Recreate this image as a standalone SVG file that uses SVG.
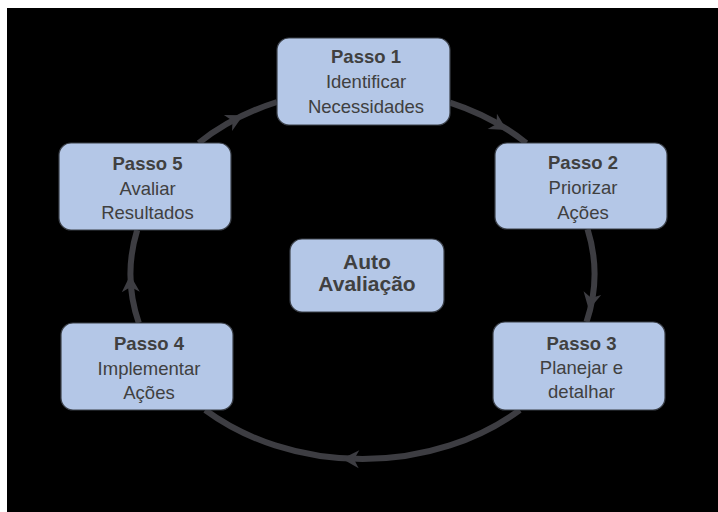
<svg xmlns="http://www.w3.org/2000/svg" width="718" height="512" viewBox="0 0 718 512">
<defs>
<style>
.box{fill:#b4c7e7;stroke:#3b4049;stroke-width:1.2}
.t{font-family:"Liberation Sans",Arial,sans-serif;font-size:18.5px;fill:#404040;text-anchor:middle}
.b{font-weight:bold}
.c{font-family:"Liberation Sans",Arial,sans-serif;font-size:21px;font-weight:bold;fill:#404040;text-anchor:middle}
.arc{fill:none;stroke:#3d3d42;stroke-width:6}
.ah{fill:#3d3d42}
</style>
<path id="head" d="M8,0 L-9,-9 L-4,0 L-9,9 Z"/>
</defs>
<rect x="0" y="0" width="718" height="512" fill="#ffffff"/>
<rect x="7" y="8" width="711" height="504" fill="#000000"/>
<g id="connectors">
<path class="arc" d="M450,102.7 A232,185 0 0 1 526.3,143"/>
<path class="arc" d="M587.5,229 A232,185 0 0 1 586.5,322"/>
<path class="arc" d="M519.8,410 A232,185 0 0 1 205.2,410"/>
<path class="arc" d="M138.8,323 A232,185 0 0 1 137.2,230"/>
<path class="arc" d="M198.7,143 A232,185 0 0 1 277,102"/>
<use href="#head" class="ah" transform="translate(500,126) rotate(31)"/>
<use href="#head" class="ah" transform="translate(590.5,302) rotate(102)"/>
<use href="#head" class="ah" transform="translate(350,459) rotate(182)"/>
<use href="#head" class="ah" transform="translate(130.5,283) rotate(-92)"/>
<use href="#head" class="ah" transform="translate(236,119) rotate(-27)"/>
</g>
<g id="step1">
<rect class="box" x="277" y="38" width="173" height="87" rx="12"/>
<text class="t b" x="366" y="63">Passo 1</text>
<text class="t" x="366" y="88">Identificar</text>
<text class="t" x="366" y="112.5">Necessidades</text>
</g>
<g id="step2">
<rect class="box" x="495" y="143" width="172" height="86" rx="12"/>
<text class="t b" x="583" y="169">Passo 2</text>
<text class="t" x="583" y="194">Priorizar</text>
<text class="t" x="583" y="218.5">Ações</text>
</g>
<g id="step3">
<rect class="box" x="493" y="322" width="172" height="88" rx="12"/>
<text class="t b" x="581.5" y="350">Passo 3</text>
<text class="t" x="581.5" y="374">Planejar e</text>
<text class="t" x="581.5" y="398">detalhar</text>
</g>
<g id="step4">
<rect class="box" x="61" y="323" width="172" height="87" rx="12"/>
<text class="t b" x="149" y="350">Passo 4</text>
<text class="t" x="149" y="374.5">Implementar</text>
<text class="t" x="149" y="399">Ações</text>
</g>
<g id="step5">
<rect class="box" x="59" y="143" width="172" height="87" rx="12"/>
<text class="t b" x="147.5" y="170">Passo 5</text>
<text class="t" x="147.5" y="195">Avaliar</text>
<text class="t" x="147.5" y="219">Resultados</text>
</g>
<g id="center">
<rect class="box" x="290" y="239" width="154" height="73" rx="12"/>
<text class="c" x="367" y="268.5">Auto</text>
<text class="c" x="367" y="291">Avaliação</text>
</g>
</svg>
